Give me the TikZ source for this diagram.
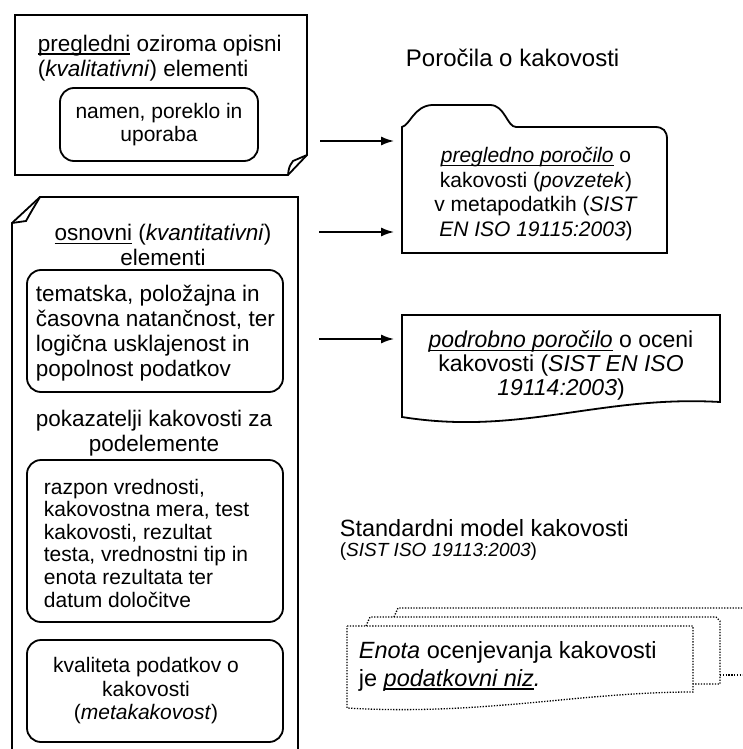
\documentclass[tikz,border=0pt]{standalone}
\usepackage{fontspec}
\setmainfont{Liberation Sans}
\usetikzlibrary{arrows.meta, positioning, calc}
\newcommand{\ulin}[1]{\setbox0=\hbox{#1}\rlap{\rule[-3.5pt]{\wd0}{1.5pt}}\box0\relax}
\tikzset{
  every picture/.style={line width=1.8pt},
  rbox/.style={draw, rounded corners=14pt, inner sep=0pt, minimum width=256pt, align=center},
  txt/.style={inner sep=0pt, align=center},
  arrow/.style={-{Latex[length=13pt, width=9pt]}, line width=1.8pt, shorten >=7pt},
  dots/.style={line width=1.3pt, dash pattern=on 1.3pt off 1.5pt},
  f19/.style={font=\fontsize{19}{22}\selectfont},
  f21/.style={font=\fontsize{21}{23.5}\selectfont},
  f22/.style={font=\fontsize{22.5}{25}\selectfont},
  f24/.style={font=\fontsize{23.5}{25.5}\selectfont},
}
\begin{document}
\begin{tikzpicture}[x=1pt, y=-1pt]
  \useasboundingbox (0,0) rectangle (742,749);
  \clip (0,0) rectangle (742,749);
  % descriptive elements
  \draw (15,15) -- (307,15) -- (307,155) -- (288,175) -- (15,175) -- cycle;
  \draw (288,175) .. controls (289,167) .. (293,161) -- (307,155);
  \node[txt, anchor=west, align=left, f22] (qualt) at (37,58) {\ulin{pregledni} oziroma opisni\\(\textit{kvalitativni}) elementi};
  \node[rbox, minimum width=198pt, minimum height=73pt, f21] (use) at (159,124.5) {namen, poreklo in\\uporaba};
  % quantitative elements
  \draw (40,197) -- (298,197) -- (298,770) -- (12,770) -- (12,223) -- cycle;
  \draw (12,223) -- (26,221) .. controls (31,212) .. (40,197);
  \node[txt, f22] (quantt) at (163,245) {\ulin{osnovni} (\textit{kvantitativni})\\elementi};
  \node[rbox, minimum height=122pt] (accbox) at (155,331) {};
  \node[txt, anchor=west, align=left, font=\fontsize{22.5}{25}\selectfont] (acc) at (35,333) {tematska, položajna in\\časovna natančnost, ter\\logična usklajenost in\\popolnost podatkov};
  \node[txt, f22] (subt) at (154,433) {pokazatelji kakovosti za\\podelemente};
  \node[rbox, minimum height=162pt] (measbox) at (155,541) {};
  \node[txt, anchor=west, align=left, font=\fontsize{21}{22.6}\selectfont] (meas) at (43,543) {razpon vrednosti,\\kakovostna mera, test\\kakovosti, rezultat\\testa, vrednostni tip in\\enota rezultata ter\\datum določitve};
  \node[rbox, minimum height=102pt] (metabox) at (155,691) {};
  \node[txt, f21] (meta) at (146,691) {kvaliteta podatkov o\\kakovosti\\(\textit{metakakovost})};
  % reports
  \node[anchor=west, inner sep=0pt, font=\fontsize{24}{26}\selectfont] (reps) at (405,58) {Poročila o kakovosti};
  \draw (402,253) -- (402,127) .. controls (410,125) and (414,106) .. (432,105) -- (490,105)
    .. controls (505,105) and (507,127) .. (516,127) -- (655,127)
    .. controls (663,127) and (667,131) .. (667,139) -- (667,253) -- cycle;
  \node[minimum width=265pt, minimum height=126pt, inner sep=0pt] (sumrep) at (534.5,190) {};
  \node[txt, font=\fontsize{21}{24.6}\selectfont] (sumt) at (536,194) {\textit{\ulin{pregledno poročilo}} o\\kakovosti (\textit{povzetek})\\v metapodatkih (\textit{SIST}\\\textit{EN ISO 19115:2003})};
  \draw (402,315) -- (720,315) -- (720,402) .. controls (600,395) and (520,436) .. (402,417) -- cycle;
  \node[minimum width=318pt, minimum height=102pt, inner sep=0pt] (detrep) at (561,366) {};
  \node[txt, font=\fontsize{23}{24}\selectfont] (dett) at (561,366) {\textit{\ulin{podrobno poročilo}} o oceni\\kakovosti (\textit{SIST EN ISO}\\\textit{19114:2003})};
  % arrows
  \coordinate (a1) at (320,141);
  \coordinate (a2) at (319,232);
  \coordinate (a3) at (319,339);
  \draw[arrow] (a1) -- (sumrep.west |- a1);
  \draw[arrow] (a2) -- (sumrep.west |- a2);
  \draw[arrow] (a3) -- (detrep.west |- a3);
  % standard model
  \node[anchor=west, inner sep=0pt, f24] (std) at (339,528) {Standardni model kakovosti};
  \node[anchor=west, inner sep=0pt, f19] (stdref) at (339,552) {(\textit{SIST ISO 19113:2003})};
  \draw[dots] (394,617) -- (398,608) -- (750,608);
  \draw[dots] (720,675) -- (750,675);
  \draw[dots] (366,626) -- (370,617) -- (716,617) -- (720,621) -- (720,684) -- (693,684);
  \draw[dots, fill=white] (347,626) -- (693,626) -- (693,692) .. controls (580,692) and (480,716) .. (347,708) -- cycle;
  \node[txt, anchor=west, align=left, font=\fontsize{23.5}{28}\selectfont] (unit) at (358,666) {\textit{Enota} ocenjevanja kakovosti\\je \textit{\ulin{podatkovni niz}.}};
\end{tikzpicture}
\end{document}
